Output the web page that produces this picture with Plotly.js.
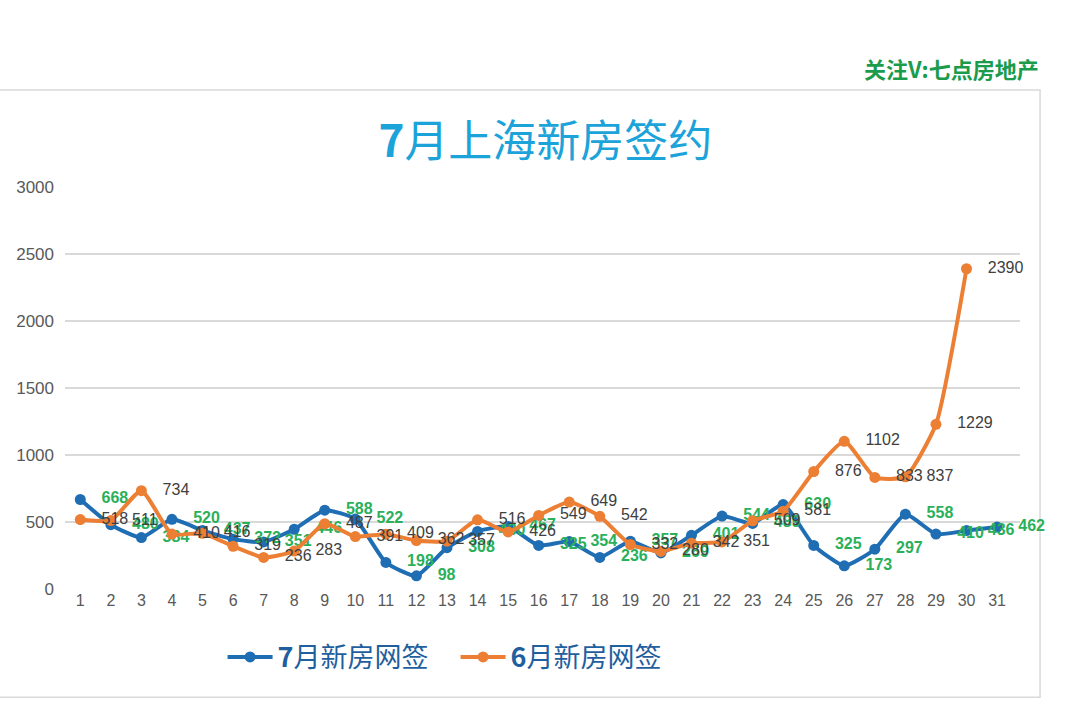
<!DOCTYPE html>
<html>
<head>
<meta charset="utf-8">
<script src="https://cdn.plot.ly/plotly-3.0.1.min.js"></script>
<style>
  html, body { margin: 0; padding: 0; background: #fff; }
  #chart { width: 1080px; height: 725px; }
</style>
</head>
<body>
<div id="chart"></div>
<script>
// 7月 daily signings (blue line, green labels)
const julyDays = [1, 2, 3, 4, 5, 6, 7, 8, 9, 10, 11, 12, 13, 14, 15, 16,
  17, 18, 19, 20, 21, 22, 23, 24, 25, 26, 27, 28, 29, 30, 31];
const julyValues = [668, 480, 384, 520, 437, 372, 351, 446, 588, 522, 198, 98,
  308, 430, 467, 325, 354, 236, 357, 269, 401, 544, 489, 630, 325, 173, 297,
  558, 410, 436, 462];

// 6月 daily signings (orange line, gray labels)
const juneDays = [1, 2, 3, 4, 5, 6, 7, 8, 9, 10, 11, 12, 13, 14, 15, 16,
  17, 18, 19, 20, 21, 22, 23, 24, 25, 26, 27, 28, 29, 30];
const juneValues = [518, 511, 734, 410, 416, 319, 236, 283, 487, 391, 409, 362,
  357, 516, 426, 549, 649, 542, 332, 280, 342, 351, 509, 581, 876, 1102, 833,
  837, 1229, 2390];

const yTicks = [0, 500, 1000, 1500, 2000, 2500, 3000];

const julyTrace = {
  x: julyDays,
  y: julyValues,
  name: "<b>7</b>月新房网签",
  type: "scatter",
  mode: "lines+markers+text",
  line: { color: "#1f6db3", width: 4, shape: "spline", smoothing: 0.5 },
  marker: { color: "#1f6db3", size: 11 },
  text: julyValues.map(String),
  texttemplate: "   %{text}",
  textposition: "middle right",
  textfont: { family: "Liberation Sans, Arial, sans-serif", size: 16, color: "#2bb05a", weight: "bold" },
  cliponaxis: false,
};

const juneTrace = {
  x: juneDays,
  y: juneValues,
  name: "<b>6</b>月新房网签",
  type: "scatter",
  mode: "lines+markers+text",
  line: { color: "#ec7f33", width: 4, shape: "spline", smoothing: 0.5 },
  marker: { color: "#ec7f33", size: 11 },
  text: juneValues.map(String),
  texttemplate: "   %{text}",
  textposition: "middle right",
  textfont: { family: "Liberation Sans, Arial, sans-serif", size: 16, color: "#404040" },
  cliponaxis: false,
};

const layout = {
  width: 1080,
  height: 725,
  margin: { l: 65, r: 60, t: 187, b: 136 },
  paper_bgcolor: "#ffffff",
  plot_bgcolor: "#ffffff",
  showlegend: true,
  title: {
    text: "<b>7</b>月上海新房签约",
    font: { family: "Noto Sans CJK SC, sans-serif", size: 44, color: "#1ca3d9" },
    x: 0.505,
    xanchor: "center",
    y: 0.805,
    yanchor: "middle",
  },
  xaxis: {
    range: [0.5, 31.75],
    tickmode: "array",
    tickvals: julyDays,
    ticktext: julyDays.map(String),
    showgrid: false,
    zeroline: false,
    showline: false,
    ticks: "",
    tickfont: { family: "Liberation Sans, Arial, sans-serif", size: 16, color: "#595959" },
    fixedrange: true,
  },
  yaxis: {
    range: [0, 3000],
    tickmode: "array",
    tickvals: yTicks,
    ticktext: yTicks.map(String),
    showgrid: true,
    gridcolor: "#d9d9d9",
    gridwidth: 1.5,
    zeroline: false,
    showline: false,
    ticks: "",
    ticklabelstandoff: 10,
    tickfont: { family: "Liberation Sans, Arial, sans-serif", size: 17, color: "#595959" },
    fixedrange: true,
  },
  legend: {
    orientation: "h",
    x: 0.165,
    xanchor: "left",
    y: -0.17,
    yanchor: "middle",
    font: { family: "Noto Sans CJK SC, sans-serif", size: 27, color: "#1f5f9e" },
    itemwidth: 45,
    entrywidth: 173,
    entrywidthmode: "pixels",
    traceorder: "normal",
  },
  shapes: [
    {
      type: "rect",
      xref: "paper",
      yref: "paper",
      x0: -0.075,
      x1: 1.021,
      y0: -0.269,
      y1: 1.241,
      line: { color: "#d9d9d9", width: 1.5 },
      fillcolor: "rgba(0,0,0,0)",
      layer: "below",
    },
  ],
  annotations: [
    {
      text: "<b>关注V:七点房地产</b>",
      xref: "paper",
      yref: "paper",
      x: 1.022,
      xanchor: "right",
      y: 1.295,
      yanchor: "middle",
      showarrow: false,
      font: { family: "Noto Sans CJK SC, sans-serif", size: 22, color: "#1a9c4c" },
    },
  ],
};

const config = {
  displayModeBar: false,
  responsive: false,
  staticPlot: true,
};

Plotly.newPlot("chart", [julyTrace, juneTrace], layout, config);
</script>
</body>
</html>
